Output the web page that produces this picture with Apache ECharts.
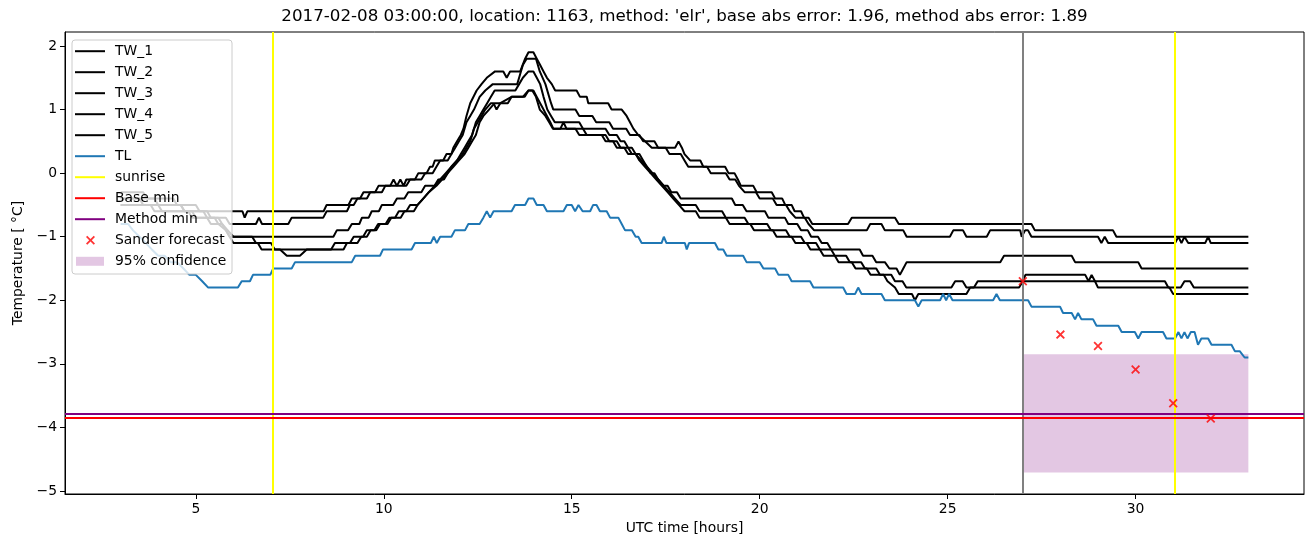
<!DOCTYPE html>
<html>
<head>
<meta charset="utf-8">
<script src="https://cdn.jsdelivr.net/npm/echarts@6/dist/echarts.min.js"></script>
<style>
html,body{margin:0;padding:0;background:#fff;}
#main{width:1313px;height:547px;}
</style>
</head>
<body>
<div id="main"></div>
<script>
// ---------------- DATA ----------------
const titleText = "2017-02-08 03:00:00, location: 1163, method: 'elr', base abs error: 1.96, method abs error: 1.89";
const xTicks = [5, 10, 15, 20, 25, 30];
const yTicks = [-5, -4, -3, -2, -1, 0, 1, 2];

const TW_1 = [[3.0,-0.3],[3.6,-0.3],[3.7,-0.4],[4.4,-0.4],[4.5,-0.5],[5.0,-0.5],[5.1,-0.6],[6.24,-0.6],[6.3,-0.7],[6.37,-0.6],[8.4,-0.6],[8.48,-0.5],[9.06,-0.5],[9.15,-0.4],[9.37,-0.4],[9.46,-0.3],[9.77,-0.3],[9.86,-0.2],[10.17,-0.2],[10.26,-0.1],[10.3,-0.1],[10.35,-0.2],[10.44,-0.1],[10.49,-0.1],[10.53,-0.2],[10.6,-0.1],[10.83,-0.1],[10.92,0.0],[11.14,0.0],[11.23,0.1],[11.3,0.1],[11.36,0.2],[11.58,0.2],[11.67,0.3],[11.8,0.3],[11.85,0.4],[11.95,0.5],[12.05,0.6],[12.12,0.7],[12.2,0.9],[12.3,1.1],[12.47,1.3],[12.6,1.4],[12.74,1.5],[12.96,1.6],[13.18,1.6],[13.27,1.5],[13.36,1.6],[13.63,1.6],[13.76,1.8],[13.85,1.9],[13.98,1.9],[14.07,1.8],[14.16,1.7],[14.25,1.6],[14.34,1.5],[14.47,1.4],[14.56,1.3],[15.13,1.3],[15.22,1.2],[15.4,1.2],[15.44,1.1],[15.97,1.1],[16.06,1.0],[16.33,1.0],[16.46,0.9],[16.55,0.8],[16.64,0.7],[16.77,0.6],[16.95,0.5],[17.13,0.4],[17.75,0.4],[17.84,0.5],[17.93,0.4],[18.0,0.3],[18.15,0.2],[18.42,0.2],[18.5,0.1],[19.08,0.1],[19.17,0.0],[19.33,0.0],[19.42,-0.1],[19.5,-0.2],[19.83,-0.2],[19.92,-0.3],[20.32,-0.3],[20.41,-0.4],[20.6,-0.4],[20.68,-0.5],[20.85,-0.5],[20.93,-0.6],[21.1,-0.6],[21.18,-0.7],[21.3,-0.7],[21.4,-0.8],[22.35,-0.8],[22.45,-0.7],[23.6,-0.7],[23.7,-0.8],[27.23,-0.8],[27.32,-0.9],[29.4,-0.9],[29.49,-1.0],[33.0,-1.0]];

const TW_2 = [[3.0,-0.4],[3.5,-0.4],[3.6,-0.5],[4.6,-0.5],[4.7,-0.6],[5.3,-0.6],[5.4,-0.7],[5.8,-0.7],[5.9,-0.8],[6.6,-0.8],[6.68,-0.7],[6.76,-0.8],[7.46,-0.8],[7.55,-0.7],[8.39,-0.7],[8.48,-0.6],[9.02,-0.6],[9.1,-0.5],[9.2,-0.5],[9.3,-0.4],[9.55,-0.4],[9.64,-0.3],[9.95,-0.3],[10.04,-0.2],[10.6,-0.2],[10.7,-0.1],[11.0,-0.1],[11.1,0.0],[11.3,0.0],[11.4,0.1],[11.5,0.2],[11.7,0.2],[11.8,0.3],[11.9,0.4],[12.0,0.5],[12.1,0.6],[12.2,0.8],[12.3,0.9],[12.4,1.0],[12.55,1.2],[12.7,1.3],[12.9,1.4],[13.55,1.4],[13.6,1.5],[13.7,1.7],[13.8,1.8],[14.05,1.8],[14.15,1.6],[14.3,1.4],[14.45,1.1],[14.51,1.0],[15.1,1.0],[15.2,0.9],[15.55,0.9],[15.65,0.8],[16.0,0.8],[16.1,0.7],[16.45,0.7],[16.55,0.6],[16.8,0.6],[16.9,0.5],[17.2,0.5],[17.3,0.4],[17.5,0.4],[17.6,0.3],[17.9,0.3],[18.0,0.2],[18.1,0.1],[18.6,0.1],[18.7,0.0],[19.1,0.0],[19.2,-0.1],[19.35,-0.1],[19.45,-0.2],[19.6,-0.3],[19.9,-0.3],[20.0,-0.4],[20.35,-0.4],[20.45,-0.5],[20.7,-0.5],[20.8,-0.6],[20.95,-0.7],[21.2,-0.7],[21.3,-0.8],[21.45,-0.9],[22.85,-0.9],[22.94,-0.8],[23.24,-0.8],[23.33,-0.9],[23.82,-0.9],[23.91,-1.0],[25.06,-1.0],[25.15,-0.9],[25.41,-0.9],[25.5,-1.0],[26.04,-1.0],[26.13,-0.9],[26.93,-0.9],[26.97,-1.0],[27.06,-0.9],[27.14,-0.9],[27.23,-1.0],[29.0,-1.0],[29.09,-1.1],[29.18,-1.0],[29.27,-1.1],[31.05,-1.1],[31.14,-1.0],[31.22,-1.1],[31.3,-1.0],[31.4,-1.1],[31.85,-1.1],[31.93,-1.0],[32.0,-1.1],[33.0,-1.1]];

const TW_3 = [[3.0,-0.5],[3.8,-0.5],[3.9,-0.6],[4.8,-0.6],[4.9,-0.7],[5.3,-0.7],[5.4,-0.8],[5.7,-0.8],[5.8,-0.9],[5.9,-1.0],[8.66,-1.0],[8.75,-0.9],[9.05,-0.9],[9.15,-0.8],[9.35,-0.8],[9.42,-0.7],[9.6,-0.7],[9.68,-0.6],[9.87,-0.6],[9.95,-0.5],[10.25,-0.5],[10.35,-0.4],[10.55,-0.4],[10.65,-0.3],[11.0,-0.3],[11.1,-0.2],[11.35,-0.2],[11.45,-0.1],[11.6,-0.1],[11.7,0.0],[11.8,0.1],[11.95,0.2],[12.05,0.3],[12.15,0.4],[12.25,0.5],[12.35,0.6],[12.45,0.8],[12.55,0.9],[12.65,1.0],[12.75,1.1],[12.85,1.2],[12.95,1.3],[13.5,1.3],[13.6,1.4],[13.7,1.5],[13.85,1.6],[13.98,1.6],[14.07,1.5],[14.16,1.4],[14.25,1.2],[14.35,1.0],[14.45,0.9],[14.55,0.8],[15.2,0.8],[15.3,0.7],[15.9,0.7],[16.0,0.6],[16.2,0.6],[16.3,0.5],[16.4,0.5],[16.5,0.4],[16.6,0.4],[16.7,0.3],[16.85,0.2],[17.0,0.1],[17.1,0.0],[17.2,0.0],[17.3,-0.1],[17.45,-0.2],[17.55,-0.2],[17.65,-0.3],[17.8,-0.3],[17.9,-0.4],[19.26,-0.4],[19.35,-0.5],[19.55,-0.5],[19.65,-0.6],[20.14,-0.6],[20.23,-0.7],[20.67,-0.7],[20.76,-0.8],[21.0,-0.8],[21.1,-0.9],[21.28,-0.9],[21.37,-1.0],[21.55,-1.0],[21.65,-1.1],[21.8,-1.1],[21.9,-1.2],[22.66,-1.2],[22.75,-1.3],[23.0,-1.3],[23.1,-1.4],[23.33,-1.4],[23.45,-1.5],[23.64,-1.5],[23.73,-1.6],[23.82,-1.5],[23.91,-1.4],[26.4,-1.4],[26.5,-1.3],[28.3,-1.3],[28.39,-1.4],[30.07,-1.4],[30.16,-1.5],[33.0,-1.5]];

const TW_4 = [[3.0,-0.5],[4.0,-0.5],[4.1,-0.6],[4.9,-0.6],[5.0,-0.7],[5.5,-0.7],[5.6,-0.8],[5.8,-0.9],[5.9,-1.0],[6.0,-1.1],[6.65,-1.1],[6.75,-1.2],[7.24,-1.2],[7.42,-1.3],[7.77,-1.3],[7.95,-1.2],[8.93,-1.2],[9.02,-1.1],[9.3,-1.1],[9.4,-1.0],[9.55,-1.0],[9.65,-0.9],[9.8,-0.9],[9.9,-0.8],[10.05,-0.8],[10.15,-0.7],[10.3,-0.7],[10.4,-0.6],[10.6,-0.6],[10.7,-0.5],[10.9,-0.5],[11.05,-0.4],[11.2,-0.3],[11.35,-0.2],[11.5,-0.1],[11.65,0.0],[11.8,0.1],[11.95,0.2],[12.1,0.3],[12.2,0.4],[12.3,0.5],[12.4,0.7],[12.5,0.8],[12.6,0.9],[12.7,1.0],[12.85,1.1],[12.92,1.1],[13.0,1.0],[13.1,1.1],[13.4,1.2],[13.7,1.2],[13.85,1.3],[13.98,1.3],[14.07,1.2],[14.16,1.1],[14.25,1.0],[14.34,0.9],[14.43,0.8],[14.51,0.7],[14.7,0.7],[14.78,0.8],[14.86,0.7],[15.3,0.7],[15.4,0.6],[15.9,0.6],[16.0,0.5],[16.2,0.5],[16.3,0.4],[16.5,0.4],[16.6,0.3],[16.8,0.3],[16.9,0.2],[17.0,0.1],[17.15,0.0],[17.3,-0.1],[17.45,-0.2],[17.6,-0.3],[17.75,-0.4],[17.9,-0.5],[18.3,-0.5],[18.4,-0.6],[19.0,-0.6],[19.1,-0.7],[19.6,-0.7],[19.7,-0.8],[20.2,-0.8],[20.3,-0.9],[20.7,-0.9],[20.8,-1.0],[21.1,-1.0],[21.2,-1.1],[21.5,-1.1],[21.6,-1.2],[21.9,-1.2],[22.0,-1.3],[22.3,-1.3],[22.4,-1.4],[22.7,-1.4],[22.8,-1.5],[23.1,-1.5],[23.2,-1.6],[23.5,-1.6],[23.6,-1.7],[23.8,-1.7],[23.9,-1.8],[25.1,-1.8],[25.2,-1.7],[25.4,-1.7],[25.5,-1.8],[25.7,-1.8],[25.8,-1.7],[30.78,-1.7],[30.87,-1.8],[31.2,-1.8],[31.3,-1.7],[31.45,-1.7],[31.55,-1.8],[33.0,-1.8]];

const TW_5 = [[3.0,-0.4],[3.9,-0.4],[4.0,-0.5],[4.6,-0.5],[4.7,-0.6],[5.2,-0.6],[5.3,-0.7],[5.6,-0.7],[5.7,-0.8],[5.85,-0.9],[6.0,-1.0],[6.5,-1.0],[6.6,-1.1],[7.0,-1.1],[7.1,-1.2],[8.6,-1.2],[8.7,-1.1],[9.1,-1.1],[9.2,-1.0],[9.45,-1.0],[9.55,-0.9],[9.75,-0.9],[9.85,-0.8],[10.1,-0.8],[10.2,-0.7],[10.45,-0.7],[10.55,-0.6],[10.8,-0.6],[10.9,-0.5],[11.05,-0.4],[11.2,-0.3],[11.4,-0.2],[11.55,-0.1],[11.7,0.0],[11.85,0.1],[12.0,0.2],[12.15,0.3],[12.25,0.4],[12.35,0.5],[12.45,0.6],[12.55,0.8],[12.65,0.9],[12.8,1.0],[12.95,1.1],[13.3,1.1],[13.4,1.2],[13.75,1.2],[13.85,1.3],[13.95,1.3],[14.05,1.2],[14.15,1.0],[14.3,0.9],[14.4,0.8],[14.5,0.7],[15.1,0.7],[15.2,0.6],[15.8,0.6],[15.9,0.5],[16.1,0.5],[16.2,0.4],[16.4,0.4],[16.5,0.3],[16.7,0.3],[16.8,0.2],[16.95,0.1],[17.1,0.0],[17.25,-0.1],[17.4,-0.2],[17.55,-0.3],[17.7,-0.4],[17.85,-0.5],[18.0,-0.6],[18.3,-0.6],[18.4,-0.7],[19.1,-0.7],[19.2,-0.8],[19.75,-0.8],[19.85,-0.9],[20.35,-0.9],[20.45,-1.0],[20.85,-1.0],[20.95,-1.1],[21.25,-1.1],[21.35,-1.2],[21.6,-1.2],[21.7,-1.3],[22.0,-1.3],[22.1,-1.4],[22.45,-1.4],[22.55,-1.5],[22.85,-1.5],[22.95,-1.6],[23.3,-1.6],[23.4,-1.7],[23.6,-1.8],[23.7,-1.9],[24.05,-1.9],[24.13,-2.0],[24.22,-1.9],[25.5,-1.9],[25.6,-1.8],[26.9,-1.8],[27.0,-1.7],[27.07,-1.6],[28.66,-1.6],[28.75,-1.7],[28.83,-1.6],[28.92,-1.7],[29.0,-1.8],[30.9,-1.8],[31.0,-1.9],[33.0,-1.9]];

const TL = [[3.0,-0.8],[3.2,-0.8],[3.33,-0.9],[3.5,-1.0],[3.67,-1.1],[3.83,-1.2],[4.0,-1.3],[4.17,-1.3],[4.33,-1.4],[4.5,-1.4],[4.67,-1.5],[4.83,-1.6],[5.0,-1.6],[5.17,-1.7],[5.33,-1.8],[6.12,-1.8],[6.22,-1.7],[6.44,-1.7],[6.52,-1.6],[6.98,-1.6],[7.06,-1.5],[7.55,-1.5],[7.64,-1.4],[9.15,-1.4],[9.24,-1.3],[9.9,-1.3],[9.98,-1.2],[10.74,-1.2],[10.83,-1.1],[11.25,-1.1],[11.33,-1.0],[11.41,-1.1],[11.5,-1.0],[11.8,-1.0],[11.89,-0.9],[12.16,-0.9],[12.25,-0.8],[12.55,-0.8],[12.65,-0.7],[12.74,-0.6],[12.83,-0.7],[12.92,-0.6],[13.4,-0.6],[13.49,-0.5],[13.76,-0.5],[13.85,-0.4],[13.98,-0.4],[14.07,-0.5],[14.25,-0.5],[14.34,-0.6],[14.78,-0.6],[14.87,-0.5],[15.0,-0.5],[15.09,-0.6],[15.18,-0.5],[15.29,-0.6],[15.49,-0.6],[15.57,-0.5],[15.66,-0.5],[15.75,-0.6],[15.93,-0.6],[16.02,-0.7],[16.24,-0.7],[16.33,-0.8],[16.42,-0.9],[16.6,-0.9],[16.7,-1.0],[16.77,-1.0],[16.86,-1.1],[17.39,-1.1],[17.45,-1.0],[17.52,-1.1],[18.01,-1.1],[18.06,-1.2],[18.12,-1.1],[18.81,-1.1],[18.9,-1.2],[19.03,-1.2],[19.12,-1.3],[19.56,-1.3],[19.65,-1.4],[20.0,-1.4],[20.1,-1.5],[20.41,-1.5],[20.5,-1.6],[20.76,-1.6],[20.85,-1.7],[21.34,-1.7],[21.43,-1.8],[22.22,-1.8],[22.31,-1.9],[22.54,-1.9],[22.62,-1.8],[22.71,-1.9],[23.24,-1.9],[23.33,-2.0],[24.13,-2.0],[24.22,-2.1],[24.31,-2.0],[24.8,-2.0],[24.88,-1.9],[24.96,-2.0],[25.04,-1.9],[25.13,-2.0],[26.21,-2.0],[26.3,-1.9],[26.39,-2.0],[27.14,-2.0],[27.23,-2.1],[27.99,-2.1],[28.07,-2.2],[28.3,-2.2],[28.39,-2.3],[28.47,-2.2],[28.56,-2.3],[28.87,-2.3],[28.96,-2.4],[29.54,-2.4],[29.63,-2.5],[29.98,-2.5],[30.07,-2.6],[30.16,-2.5],[30.73,-2.5],[30.82,-2.6],[31.05,-2.6],[31.14,-2.5],[31.22,-2.6],[31.3,-2.5],[31.38,-2.6],[31.47,-2.5],[31.57,-2.5],[31.66,-2.7],[31.75,-2.6],[31.93,-2.6],[32.02,-2.7],[32.55,-2.7],[32.64,-2.8],[32.77,-2.8],[32.9,-2.9],[33.0,-2.9]];

const sunriseHours = [7.05, 31.05];
const forecastStartHour = 27.0;
const baseMin = -3.85;
const methodMin = -3.79;
const forecastHours = [27, 28, 29, 30, 31, 32];
const forecastValues = [-1.70, -2.54, -2.72, -3.09, -3.62, -3.86];
const confidenceX = [27.0, 33.0];
const confidenceY = [-2.85, -4.71];

// ---------------- CHART ----------------
const FONT = 'DejaVu Sans';
const XPATH = 'path://M0,1.4 L1.4,0 L5,3.6 L8.6,0 L10,1.4 L6.4,5 L10,8.6 L8.6,10 L5,6.4 L1.4,10 L0,8.6 L3.6,5 Z';
const twNames = ['TW_1','TW_2','TW_3','TW_4','TW_5'];
const twData = [TW_1, TW_2, TW_3, TW_4, TW_5];
const minusFmt = v => String(v).replace('-', '\u2212');

const series = [];
twNames.forEach((n, i) => {
  series.push({
    name: n, type: 'line', data: twData[i], color: '#000000',
    showSymbol: false, symbol: 'none', z: 3,
    lineStyle: {color: '#000000', width: 2}
  });
});
series.push({
  name: 'TL', type: 'line', data: TL, color: '#1f77b4',
  showSymbol: false, symbol: 'none', z: 4,
  lineStyle: {color: '#1f77b4', width: 2}
});
series.push({
  name: 'sunrise', type: 'line', data: [], color: '#ffff00', z: 5,
  lineStyle: {color: '#ffff00', width: 2},
  markLine: {silent: true, symbol: 'none', animation: false, label: {show: false},
    lineStyle: {color: '#ffff00', width: 2, type: 'solid'},
    data: sunriseHours.map(h => ({xAxis: h}))}
});
series.push({
  name: 'forecastStart', type: 'line', data: [], color: '#808080', z: 5,
  markLine: {silent: true, symbol: 'none', animation: false, label: {show: false},
    lineStyle: {color: '#808080', width: 2, type: 'solid'},
    data: [{xAxis: forecastStartHour}]}
});
series.push({
  name: 'Base min', type: 'line', data: [], color: '#ff0000', z: 5,
  lineStyle: {color: '#ff0000', width: 2},
  markLine: {silent: true, symbol: 'none', animation: false, label: {show: false},
    lineStyle: {color: '#ff0000', width: 2, type: 'solid'},
    data: [{yAxis: baseMin}]}
});
series.push({
  name: 'Method min', type: 'line', data: [], color: '#800080', z: 5,
  lineStyle: {color: '#800080', width: 2},
  markLine: {silent: true, symbol: 'none', animation: false, label: {show: false},
    lineStyle: {color: '#800080', width: 2, type: 'solid'},
    data: [{yAxis: methodMin}]}
});
series.push({
  name: 'Sander forecast', type: 'scatter', z: 6,
  data: forecastHours.map((h, i) => [h, forecastValues[i]]),
  symbol: XPATH, symbolSize: 9, color: '#ff0000',
  itemStyle: {color: '#ff0000'}
});
series.push({
  name: '95% confidence', type: 'line', data: [], color: 'rgba(128,0,128,0.22)', z: 1,
  markArea: {silent: true, animation: false,
    itemStyle: {color: 'rgba(128,0,128,0.22)'},
    data: [[{coord: [confidenceX[0], confidenceY[0]]}, {coord: [confidenceX[1], confidenceY[1]]}]]}
});

const legendText = {fontFamily: FONT, fontSize: 13.9, color: '#000', lineHeight: 21};

const option = {
  animation: false,
  backgroundColor: '#ffffff',
  title: {
    text: titleText, left: 684.5, top: 8, textAlign: 'center', padding: 0,
    textStyle: {fontFamily: FONT, fontSize: 16.7, fontWeight: 'normal', color: '#000'}
  },
  grid: {left: 65, top: 32, width: 1239, height: 462, show: true,
    borderColor: '#000', borderWidth: 1, backgroundColor: 'transparent'},
  xAxis: {
    type: 'value', min: 1.52, max: 34.48,
    name: 'UTC time [hours]', nameLocation: 'middle', nameGap: 27,
    nameTextStyle: {fontFamily: FONT, fontSize: 13.9, color: '#000'},
    axisLine: {show: true, onZero: false, lineStyle: {color: '#000', width: 1}},
    axisTick: {show: true, inside: false, length: 5, customValues: xTicks, lineStyle: {color: '#000', width: 1}},
    axisLabel: {show: true, margin: 8, customValues: xTicks, formatter: minusFmt, fontFamily: FONT, fontSize: 13.9, color: '#000'},
    splitLine: {show: false}
  },
  yAxis: {
    type: 'value', min: -5.047, max: 2.22,
    name: 'Temperature [ °C]', nameLocation: 'middle', nameRotate: 90, nameGap: 39,
    nameTextStyle: {fontFamily: FONT, fontSize: 13.9, color: '#000'},
    axisLine: {show: true, onZero: false, lineStyle: {color: '#000', width: 1}},
    axisTick: {show: true, inside: false, length: 5, customValues: yTicks, lineStyle: {color: '#000', width: 1}},
    axisLabel: {show: true, margin: 8, customValues: yTicks, formatter: minusFmt, fontFamily: FONT, fontSize: 13.9, color: '#000'},
    splitLine: {show: false}
  },
  graphic: [{
    type: 'rect', z: 50, silent: true,
    shape: {x: 72, y: 40, width: 160, height: 234, r: 3},
    style: {fill: 'rgba(255,255,255,0.8)', stroke: '#cccccc', lineWidth: 1}
  }],
  legend: [
    {
      z: 60, left: 75, top: 40.7, orient: 'vertical', padding: 0, itemGap: 0,
      itemWidth: 30, itemHeight: 2, selectedMode: false,
      textStyle: Object.assign({padding: [0, 0, 0, 5]}, legendText),
      data: twNames.concat(['TL', 'sunrise', 'Base min', 'Method min']).map(n => ({name: n, icon: 'rect'}))
    },
    {
      z: 60, left: 86, top: 229.8, orient: 'vertical', padding: 0, itemGap: 0,
      itemWidth: 9, itemHeight: 9, selectedMode: false,
      textStyle: Object.assign({padding: [0, 0, 0, 15]}, legendText),
      data: [{name: 'Sander forecast', icon: XPATH}]
    },
    {
      z: 60, left: 76, top: 250.8, orient: 'vertical', padding: 0, itemGap: 0,
      itemWidth: 28, itemHeight: 9, selectedMode: false,
      textStyle: Object.assign({padding: [0, 0, 0, 6]}, legendText),
      data: [{name: '95% confidence', icon: 'rect'}]
    }
  ],
  series: series
};

const chart = echarts.init(document.getElementById('main'), null, {renderer: 'canvas'});
chart.setOption(option);
</script>
</body>
</html>
